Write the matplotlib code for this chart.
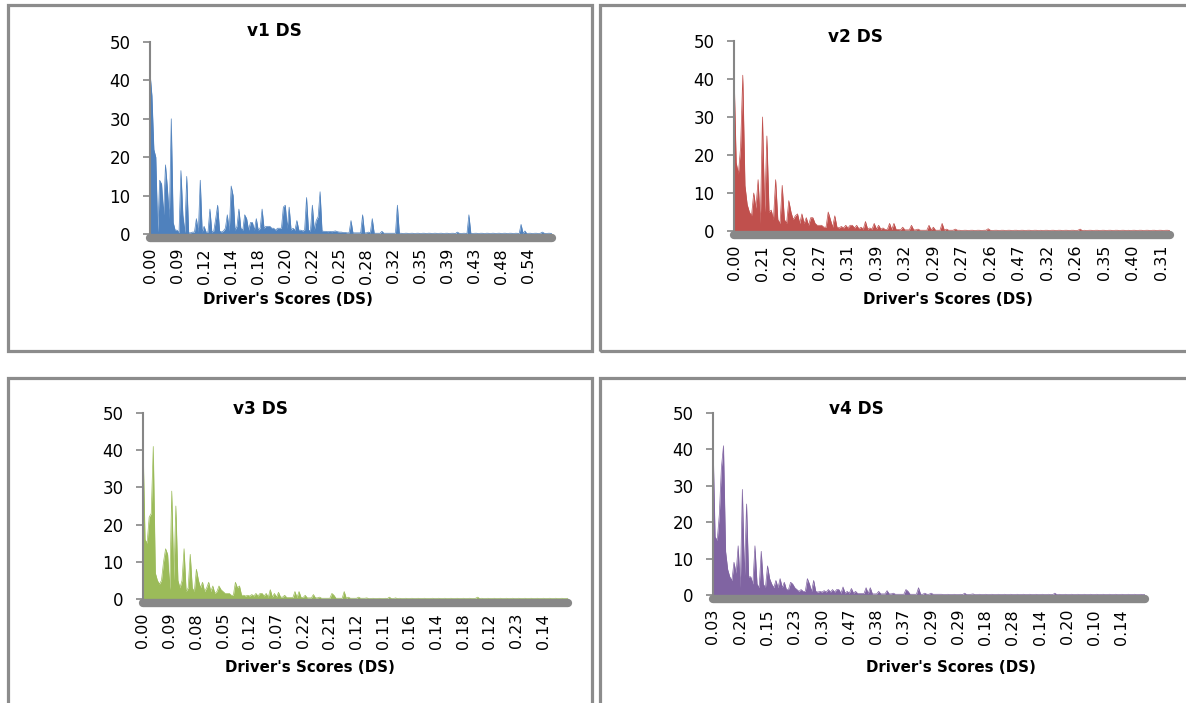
import numpy as np
import matplotlib.pyplot as plt
from matplotlib.patches import Rectangle

plt.rcParams['font.family'] = ['DejaVu Sans']

W, H = 1186, 703

# frequency of each driver score (one value per category)
v1_ds = [42, 36, 22, 20, 0.5, 14, 13, 5, 18, 12, 4, 30, 3, 1, 1, 0.3, 16.5, 5, 0.3, 15,
         0.3, 0.3, 0.5, 0.5, 4, 0.5, 14, 0.5, 2, 0.5, 0.5, 6.5, 0.5, 0.8, 4, 7.5, 0.8, 0.5, 0.8, 1.5,
         5, 0.8, 12.5, 10, 1, 2, 6.5, 1.5, 1, 5, 4, 1, 3, 3, 1, 4, 1, 1.5, 6.5, 1.5,
         2, 2, 2, 1.5, 1.5, 1, 1.5, 1.5, 1.5, 7, 7.5, 1.5, 7, 1, 1.5, 1, 3.5, 1, 1, 0.8,
         1, 9.5, 1, 0.8, 7.5, 1, 3.5, 4.5, 11, 0.8, 0.7, 0.7, 0.6, 0.7, 0.6, 0.7, 0.8, 0.6, 0.5, 0.5,
         0.4, 0.4, 0.3, 0.3, 3.5, 0.3, 0.3, 0.3, 0.3, 0.3, 5, 0.3, 0.3, 0.5, 0.3, 4, 0.2, 0.2, 0.2, 0.2,
         0.7, 0.2, 0.2, 0.2, 0.2, 0.2, 0.2, 0.2, 7.5, 0.2, 0.2, 0.1, 0.2, 0.2, 0.1, 0.2, 0.2, 0.1, 0.2, 0.2,
         0.1, 0.2, 0.2, 0.1, 0.2, 0.2, 0.1, 0.2, 0.2, 0.1, 0.2, 0.2, 0.1, 0.2, 0.2, 0.1, 0.2, 0.2, 0.1, 0.5,
         0.2, 0.1, 0.2, 0.2, 0.1, 5, 0.2, 0.1, 0.2, 0.2, 0.1, 0.2, 0.2, 0.1, 0.2, 0.2, 0.1, 0.2, 0.2, 0.1,
         0.2, 0.2, 0.1, 0.2, 0.2, 0.1, 0.2, 0.2, 0.1, 0.2, 0.2, 0.1, 2.5, 0.2, 0.8, 0.1, 0.2, 0.2, 0.1, 0.2,
         0.2, 0.1, 0.2, 0.5, 0.2, 0.1, 0.2, 0.2, 0.1]
v1_labels = ['0.00', '0.09', '0.12', '0.14', '0.18', '0.20', '0.22', '0.25',
             '0.28', '0.32', '0.35', '0.39', '0.43', '0.48', '0.54']

v2_ds = [42, 18, 15, 22, 41, 12, 7, 5, 4, 10, 6, 13.5, 2, 30, 5, 25, 5, 5.5, 3, 13.5,
         3, 2, 12, 3, 2, 8, 5, 3, 4, 4.5, 2, 4.5, 2, 3.5, 1.5, 3.5, 3.5, 2, 1.5, 1.5,
         1.5, 1, 1, 5, 3, 1, 4, 1, 0.8, 1.2, 0.8, 1.5, 0.8, 1.5, 1.5, 0.8, 1.5, 0.6, 1, 0.5,
         2.5, 0.5, 0.8, 0.5, 2, 0.5, 1.5, 0.5, 0.8, 0.4, 0.4, 2, 0.4, 2, 0.4, 0.4, 0.3, 1, 0.3, 0.3,
         0.3, 1.5, 0.3, 0.3, 0.5, 0.2, 0.2, 0.2, 0.2, 1.5, 0.3, 1, 0.2, 0.2, 0.2, 2, 0.2, 0.5, 0.2, 0.2,
         0.2, 0.5, 0.2, 0.2, 0.1, 0.2, 0.2, 0.1, 0.2, 0.2, 0.1, 0.2, 0.2, 0.1, 0.2, 0.2, 0.6, 0.2, 0.1, 0.2,
         0.2, 0.1, 0.2, 0.2, 0.1, 0.2, 0.2, 0.1, 0.2, 0.2, 0.1, 0.2, 0.2, 0.1, 0.2, 0.2, 0.1, 0.2, 0.2, 0.1,
         0.2, 0.1, 0.2, 0.2, 0.1, 0.2, 0.2, 0.1, 0.2, 0.2, 0.1, 0.2, 0.2, 0.1, 0.2, 0.2, 0.1, 0.2, 0.5, 0.1,
         0.2, 0.1, 0.2, 0.2, 0.1, 0.2, 0.2, 0.1, 0.2, 0.2, 0.1, 0.2, 0.2, 0.1, 0.2, 0.2, 0.1, 0.2, 0.2, 0.1,
         0.2, 0.1, 0.2, 0.2, 0.1, 0.2, 0.2, 0.1, 0.2, 0.2, 0.1, 0.2, 0.2, 0.1, 0.2, 0.2, 0.1, 0.2, 0.2, 0.1]
v2_labels = ['0.00', '0.21', '0.20', '0.27', '0.31', '0.39', '0.32', '0.29',
             '0.27', '0.26', '0.47', '0.32', '0.26', '0.35', '0.40', '0.31']

v3_ds = [42, 16, 15, 22, 23, 41, 7, 5, 4, 5, 10, 13.5, 12, 2.5, 29, 5, 25, 5, 3, 5,
         13.5, 2, 3, 12, 3, 2, 8, 5, 3, 4.5, 2, 3, 4.5, 2, 3.5, 1.5, 2, 3.5, 2.5, 2,
         1.5, 1.5, 1.5, 1, 1, 4.5, 3, 3.5, 1, 1, 0.8, 1, 0.8, 1.2, 0.8, 1.5, 0.8, 1.5, 1.5, 0.8,
         1.5, 0.5, 2.5, 0.5, 1.5, 0.5, 1.8, 0.5, 0.5, 1, 0.4, 0.4, 0.4, 0.4, 2, 0.4, 2, 0.4, 0.4, 1,
         0.3, 0.3, 0.3, 1.2, 0.3, 0.3, 0.5, 0.2, 0.2, 0.2, 0.2, 0.2, 1.5, 1, 0.2, 0.2, 0.2, 0.2, 2, 0.2,
         0.5, 0.2, 0.2, 0.2, 0.2, 0.5, 0.2, 0.2, 0.2, 0.3, 0.1, 0.1, 0.2, 0.1, 0.1, 0.2, 0.1, 0.1, 0.2, 0.1,
         0.5, 0.1, 0.1, 0.3, 0.1, 0.2, 0.1, 0.1, 0.2, 0.1, 0.1, 0.2, 0.1, 0.1, 0.2, 0.1, 0.1, 0.2, 0.1, 0.1,
         0.1, 0.2, 0.1, 0.1, 0.2, 0.1, 0.1, 0.2, 0.1, 0.1, 0.2, 0.1, 0.1, 0.2, 0.1, 0.1, 0.2, 0.1, 0.1, 0.2,
         0.1, 0.1, 0.2, 0.5, 0.1, 0.2, 0.1, 0.1, 0.2, 0.1, 0.1, 0.2, 0.1, 0.1, 0.2, 0.1, 0.1, 0.2, 0.1, 0.1,
         0.2, 0.1, 0.1, 0.2, 0.1, 0.1, 0.2, 0.1, 0.1, 0.2, 0.1, 0.1, 0.2, 0.1, 0.1, 0.2, 0.1, 0.1, 0.2, 0.1,
         0.1, 0.2, 0.1, 0.1, 0.2, 0.1, 0.1, 0.2]
v3_labels = ['0.00', '0.09', '0.08', '0.05', '0.12', '0.07', '0.22', '0.21',
             '0.12', '0.11', '0.16', '0.14', '0.18', '0.12', '0.23', '0.14']

v4_ds = [42, 16, 15, 22, 35, 41, 12, 7, 5, 4, 9, 6, 13.5, 2, 29, 5, 25, 5, 5, 3,
         13.5, 3, 2, 12, 3, 2, 8, 4.5, 3, 2, 4, 2, 4.5, 2, 3.5, 1.5, 1.5, 3.5, 3, 2,
         1.5, 1, 1.5, 1, 1, 4.5, 3, 1, 4, 1, 0.8, 1, 0.8, 1.2, 0.8, 1.5, 0.8, 1.5, 0.8, 1.5,
         1.5, 0.5, 2.2, 0.5, 1, 0.5, 1.8, 0.5, 1, 0.4, 0.4, 0.4, 0.4, 2, 0.4, 2, 0.3, 0.3, 0.3, 1,
         0.3, 0.3, 0.3, 1.2, 0.3, 0.3, 0.5, 0.2, 0.2, 0.2, 0.2, 0.2, 1.5, 1, 0.2, 0.2, 0.2, 0.2, 2, 0.2,
         0.2, 0.5, 0.2, 0.2, 0.5, 0.2, 0.2, 0.2, 0.2, 0.2, 0.1, 0.1, 0.2, 0.1, 0.1, 0.2, 0.1, 0.1, 0.2, 0.1,
         0.5, 0.1, 0.1, 0.2, 0.3, 0.1, 0.1, 0.2, 0.1, 0.1, 0.2, 0.1, 0.1, 0.2, 0.1, 0.1, 0.2, 0.1, 0.1, 0.2,
         0.1, 0.1, 0.2, 0.1, 0.1, 0.2, 0.1, 0.1, 0.2, 0.1, 0.1, 0.2, 0.1, 0.1, 0.2, 0.1, 0.1, 0.2, 0.1, 0.1,
         0.2, 0.1, 0.1, 0.5, 0.1, 0.2, 0.1, 0.1, 0.2, 0.1, 0.1, 0.2, 0.1, 0.1, 0.2, 0.1, 0.1, 0.2, 0.1, 0.1,
         0.2, 0.1, 0.1, 0.2, 0.1, 0.1, 0.2, 0.1, 0.1, 0.2, 0.1, 0.1, 0.2, 0.1, 0.1, 0.2, 0.1, 0.1, 0.2, 0.1,
         0.1, 0.2, 0.1, 0.1, 0.2, 0.1, 0.1]
v4_labels = ['0.03', '0.20', '0.15', '0.23', '0.30', '0.47', '0.38', '0.37',
             '0.29', '0.29', '0.18', '0.28', '0.14', '0.20', '0.10', '0.14']

fig = plt.figure(figsize=(W / 100, H / 100), dpi=100)

# grey chart frames (pixel boxes: left, top, right, bottom)
for l, t, r, b in [(8, 5, 592, 351), (600, 5, 1196, 351), (8, 378, 592, 714), (600, 378, 1196, 714)]:
    fig.add_artist(Rectangle((l / W, 1 - b / H), (r - l) / W, (b - t) / H,
                             transform=fig.transFigure, fill=False, ec='#8c8c8c', lw=2.3))

panels = [
    (v1_ds, v1_labels, 14, '#4F81BD', 'v1 DS', (150, 42, 552, 234), (274, 31), (288, 299)),
    (v2_ds, v2_labels, 13, '#C0504D', 'v2 DS', (734, 41, 1170, 231), (855, 37), (948, 299)),
    (v3_ds, v3_labels, 13, '#9BBB59', 'v3 DS', (143, 413, 568, 599), (260, 409), (310, 668)),
    (v4_ds, v4_labels, 13, '#8064A2', 'v4 DS', (713, 413, 1145, 595), (856, 409), (951, 667)),
]

for vals, labels, step, color, title, box, tpos, lpos in panels:
    l, t, r, b = box
    ax = fig.add_axes([l / W, 1 - b / H, (r - l) / W, (b - t) / H])
    x = np.arange(len(vals))
    ax.fill_between(x, vals, color=color, lw=0)
    ax.plot(x, vals, color=color, lw=0.5)
    ax.set_xlim(0, len(vals) - 1)
    ax.set_ylim(0, 50)
    ax.set_yticks(range(0, 51, 10))
    ax.set_xticks(x[::step][:len(labels)])
    ax.set_xticklabels(labels)
    for s in ['top', 'right']:
        ax.spines[s].set_visible(False)
    ax.spines['left'].set_color('#868686')
    ax.spines['left'].set_linewidth(1.5)
    ax.spines['bottom'].set_color('#888888')
    ax.spines['bottom'].set_linewidth(6)
    ax.spines['bottom'].set_capstyle('round')
    ax.spines['bottom'].set_position(('outward', 3))
    ax.tick_params(axis='y', length=5, width=1.2, color='#868686', labelsize=12, pad=9)
    ax.tick_params(axis='x', length=0, pad=7, labelsize=11.5, labelrotation=90)
    fig.text(tpos[0] / W, 1 - tpos[1] / H, title, ha='center', va='center',
             fontsize=12.2, fontweight='bold')
    fig.text(lpos[0] / W, 1 - lpos[1] / H, "Driver's Scores (DS)", ha='center', va='center',
             fontsize=10.8, fontweight='bold')

fig.savefig('out.png', dpi=100)
